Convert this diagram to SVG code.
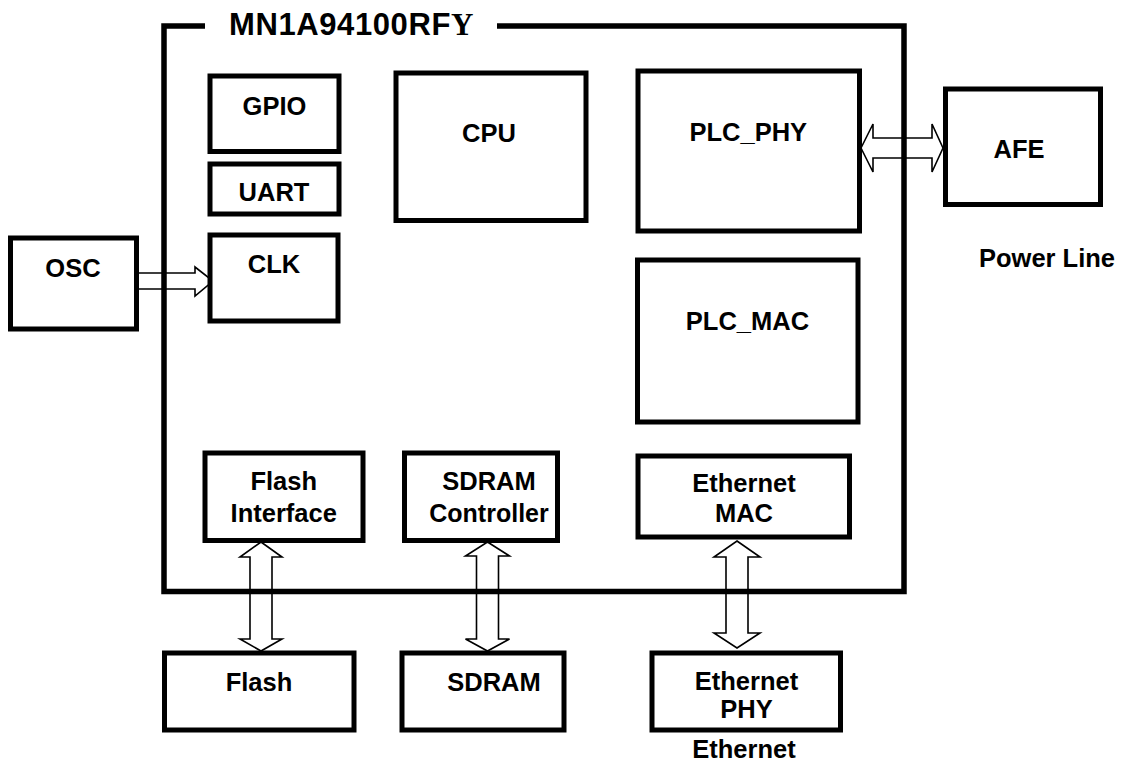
<svg xmlns="http://www.w3.org/2000/svg" width="1122" height="764" viewBox="0 0 1122 764">
<style>
.box{fill:#fff;stroke:#000;stroke-width:5}
.t{font-family:"Liberation Sans",Arial,sans-serif;font-weight:bold;font-size:25.5px;fill:#000;text-anchor:middle}
.arr{fill:#fff;stroke:#000;stroke-width:1.6;stroke-linejoin:miter}
.chip{fill:none;stroke:#000;stroke-width:5.5}
</style>
<rect width="1122" height="764" fill="#fff"/>
<g id="connectors">
<polygon class="arr" points="138,273 195,273 195,267 213,281 195,296 195,289 138,289"/>
<polygon class="arr" points="861,148 873,124 873,138 932,138 932,124 943,148 932,172 932,158 873,158 873,172"/>
<polygon class="arr" points="261,542 282,557 272,557 272,639 282,639 261,651 240,639 250,639 250,557 240,557"/>
<polygon class="arr" points="487.5,542 509.5,556 498.5,556 498.5,639 509.5,639 487.5,651 465.5,639 476.5,639 476.5,556 465.5,556"/>
<polygon class="arr" points="737,541 760,557 748,557 748,633 760,633 737,648 714,633 726,633 726,557 714,557"/>
</g>
<g id="chip">
<path class="chip" d="M205,26 H164 V591.5 H904 V26 H497"/>
<text x="229" y="35" style="font-family:'Liberation Sans',Arial,sans-serif;font-weight:bold;font-size:31px;letter-spacing:0.6px">MN1A94100RF<tspan style="font-family:'Liberation Serif','Times New Roman',serif">Y</tspan></text>
</g>
<g id="gpio"><rect class="box" x="210" y="76" width="129" height="75.5"/><text class="t" x="274.5" y="115">GPIO</text></g>
<g id="uart"><rect class="box" x="210" y="164" width="129" height="50"/><text class="t" x="274" y="200.5">UART</text></g>
<g id="clk"><rect class="box" x="210" y="235" width="128" height="86"/><text class="t" x="274" y="273">CLK</text></g>
<g id="cpu"><rect class="box" x="396" y="73" width="190" height="147.5"/><text class="t" x="489" y="141.5">CPU</text></g>
<g id="plc_phy"><rect class="box" x="638" y="71" width="221.5" height="160"/><text class="t" x="748.3" y="141">PLC_PHY</text></g>
<g id="plc_mac"><rect class="box" x="637.5" y="260" width="220.5" height="162"/><text class="t" x="747.5" y="330">PLC_MAC</text></g>
<g id="afe"><rect class="box" x="945.5" y="89" width="155" height="115.5"/><text class="t" x="1019" y="158">AFE</text></g>
<g id="powerline"><text class="t" x="1047" y="267">Power Line</text></g>
<g id="osc"><rect class="box" x="10.5" y="238" width="126" height="91"/><text class="t" x="73" y="277">OSC</text></g>
<g id="flash_if"><rect class="box" x="205" y="453" width="158" height="87.5"/><text class="t" x="283.7" y="490">Flash</text><text class="t" x="283.7" y="521.7">Interface</text></g>
<g id="sdram_ctrl"><rect class="box" x="404.5" y="453" width="153" height="87.5"/><text class="t" x="489" y="490">SDRAM</text><text class="t" x="489" y="521.7" style="font-size:25px">Controller</text></g>
<g id="eth_mac"><rect class="box" x="638" y="456" width="211.5" height="81"/><text class="t" x="744" y="491.5">Ethernet</text><text class="t" x="744" y="521.7">MAC</text></g>
<g id="flash"><rect class="box" x="164.5" y="653" width="189.5" height="77"/><text class="t" x="259" y="690.5">Flash</text></g>
<g id="sdram"><rect class="box" x="402" y="653" width="162" height="77"/><text class="t" x="494" y="690.5">SDRAM</text></g>
<g id="eth_phy"><rect class="box" x="652" y="653" width="188.5" height="77"/><text class="t" x="746.5" y="690">Ethernet</text><text class="t" x="746.5" y="718.3">PHY</text></g>
<g id="ethernet_label"><text class="t" x="744" y="758">Ethernet</text></g>
</svg>
